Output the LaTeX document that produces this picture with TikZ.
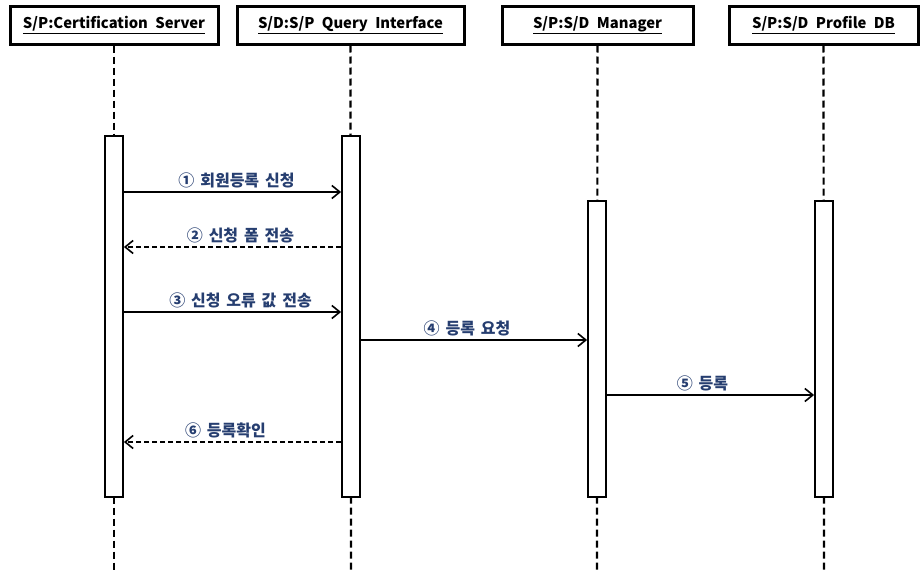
\documentclass[tikz,border=0pt]{standalone}
\usepackage{fontspec}
\newfontfamily\krfont{Noto Sans CJK KR}
\newfontfamily\krlabelfont[WordSpace=1.6]{Noto Sans CJK KR}
\usetikzlibrary{arrows.meta,calc}
\definecolor{msgBlue}{RGB}{38,62,112}
\newcommand{\gap}{\hspace{0.5em}}
\tikzset{
  object box/.style={draw,line width=3pt,fill=white,minimum height=38pt,inner sep=0pt,font=\krfont\bfseries\fontsize{14.8}{16}\selectfont},
  life line/.style={line width=2.2pt,dash pattern=on 7pt off 4pt},
  activation/.style={draw,line width=1.8pt,fill=white,minimum width=18pt,inner sep=0pt},
  msg/.style={line width=1.6pt,-{Straight Barb[length=8pt,width=13pt,line width=1.6pt]}},
  msg back/.style={msg,dash pattern=on 5pt off 3pt},
  msg label/.style={above=0pt,text=msgBlue,font=\krlabelfont\bfseries\fontsize{16}{18}\selectfont}
}
\begin{document}
\begin{tikzpicture}[x=1pt,y=-1pt]
  \useasboundingbox (0,0) rectangle (922,570);
  % objects
  \node[object box,minimum width=208pt] (cert) at (114,25) {\underline{S/P:Certification\gap Server}};
  \node[object box,minimum width=227pt] (query) at (350.5,25) {\underline{S/D:S/P\gap Query\gap Interface}};
  \node[object box,minimum width=191pt] (manager) at (597.5,25) {\underline{S/P:S/D\gap Manager}};
  \node[object box,minimum width=189pt] (profile) at (823.5,25) {\underline{S/P:S/D\gap Profile\gap DB}};
  % life lines
  \foreach \obj/\cx in {cert/114,query/351,manager/597,profile/824}
    \coordinate (\obj end) at (\cx,572);
  \foreach \obj in {cert,query,manager,profile}
    \draw[life line] (\obj.south) -- (\obj end);
  % activation bars
  \node[activation,minimum height=361pt] (certbar) at (114,316.5) {};
  \node[activation,minimum height=361pt] (querybar) at (351,316.5) {};
  \node[activation,minimum height=296pt] (managerbar) at (597,349) {};
  \node[activation,minimum height=296pt] (profilebar) at (824,349) {};
  % message levels
  \coordinate (m1) at (0,192);
  \coordinate (m2) at (0,247);
  \coordinate (m3) at (0,312);
  \coordinate (m4) at (0,340);
  \coordinate (m5) at (0,395);
  \coordinate (m6) at (0,442);
  % messages
  \draw[msg] (certbar.east |- m1) -- node[msg label,xshift=4pt] {① 회원등록 신청} (querybar.west |- m1);
  \draw[msg back] (querybar.west |- m2) -- node[msg label,xshift=8pt] {② 신청 폼 전송} (certbar.east |- m2);
  \draw[msg] (certbar.east |- m3) -- node[msg label,xshift=8pt] {③ 신청 오류 값 전송} (querybar.west |- m3);
  \draw[msg] (querybar.east |- m4) -- node[msg label,xshift=-7pt] {④ 등록 요청} (managerbar.west |- m4);
  \draw[msg] (managerbar.east |- m5) -- node[msg label,xshift=-8pt] {⑤ 등록} (profilebar.west |- m5);
  \draw[msg back] (querybar.west |- m6) -- node[msg label,xshift=-7pt] {⑥ 등록확인} (certbar.east |- m6);
\end{tikzpicture}
\end{document}
